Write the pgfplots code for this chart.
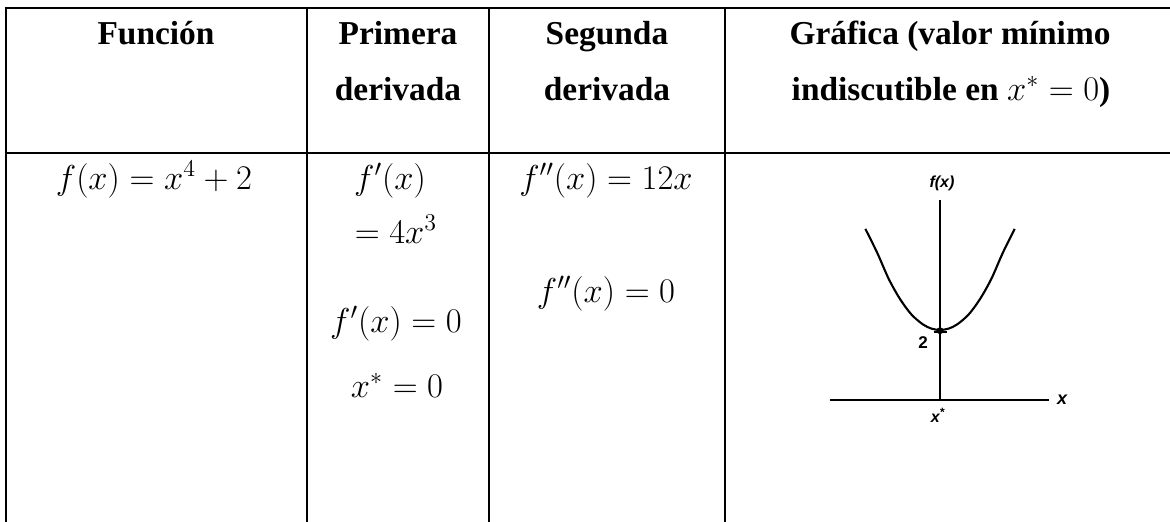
\documentclass[border=0pt]{standalone}
\usepackage{fontspec}
\setmainfont{Liberation Serif}
\setsansfont{Liberation Sans}
\usepackage{pgfplots}
\pgfplotsset{compat=1.18}
\begin{document}
\begin{tikzpicture}
\begin{scope}[x=0.5pt,y=-0.5pt]
\useasboundingbox (0,0) rectangle (1170,521);
\tikzset{
  t/.style={anchor=base,inner sep=0pt,font=\fontsize{16.7pt}{20pt}\selectfont},
  h/.style={anchor=base,inner sep=0pt,font=\fontsize{16.7pt}{20pt}\selectfont\bfseries},
}
\begin{scope}
\clip (0,0) rectangle (1170,521);
\draw[line width=1.1pt] (4.6,7.7) -- (1190,7.7);
\draw[line width=1.1pt] (4.6,153) -- (1190,153);
\foreach \x in {5.7,307,489,725,1176} \draw[line width=1.1pt] (\x,6.6) -- (\x,540);
\end{scope}
% headers
\node[h] at (156,44) {Función};
\node[h] at (398,44) {Primera};
\node[h] at (398,100) {derivada};
\node[h] at (607,44) {Segunda};
\node[h] at (607,100) {derivada};
\node[h] at (950,44) {Gráfica (valor mínimo};
\node[h] at (951,100) {indiscutible en $x^{*}=0$)};
% body
\node[t] at (154,189) {$f(x)=x^{4}+2$};
\node[t] at (390,189) {$f'(x)$};
\node[t] at (396,243) {$=4x^{3}$};
\node[t] at (396,332) {$f'(x)=0$};
\node[t] at (397,397) {$x^{*}=0$};
\node[t] at (606,189) {$f''(x)=12x$};
\node[t] at (606,302) {$f''(x)=0$};
\end{scope}
% graph
\begin{axis}[
  at={(415pt,-200pt)}, anchor=south west,
  scale only axis, width=109.5pt, height=100pt,
  xmin=-1.93, xmax=1.912, ymin=0, ymax=5.714,
  axis x line=middle, axis y line=middle,
  axis line style={-, line width=0.55pt, black},
  every inner x axis line/.append style={-},
  every inner y axis line/.append style={-},
  xtick=\empty, ytick={1.95}, yticklabels={},
  ytick style={line width=1pt, black},
  major tick length=6.5pt, tick align=center,
  clip=false,
]
\addplot[black, line width=1.05pt, smooth] coordinates {
 (-1.31,4.89) (-1.1,4.2) (-0.9,3.46) (-0.7,2.88) (-0.5,2.44) (-0.3,2.16)
 (-0.15,2.04) (0,2) (0.15,2.04) (0.3,2.16) (0.5,2.44) (0.7,2.88)
 (0.9,3.46) (1.1,4.2) (1.31,4.89)
};
\addplot[only marks, mark=*, mark size=1.5pt, black] coordinates {(0,1.98)};
\node[font=\sffamily\bfseries\itshape\fontsize{8pt}{9pt}\selectfont, inner sep=0pt] at (axis cs:0.035,6.2) {f(x)};
\node[font=\sffamily\bfseries\fontsize{8.5pt}{9pt}\selectfont, inner sep=0pt] at (axis cs:-0.298,1.629) {2};
\node[font=\sffamily\bfseries\itshape\fontsize{9pt}{9pt}\selectfont, inner sep=0pt] at (axis cs:2.14,0) {x};
\node[font=\sffamily\bfseries\itshape\fontsize{8pt}{9pt}\selectfont, inner sep=0pt] at (axis cs:-0.035,-0.43) {x\textsuperscript{*}};
\end{axis}
\end{tikzpicture}
\end{document}
